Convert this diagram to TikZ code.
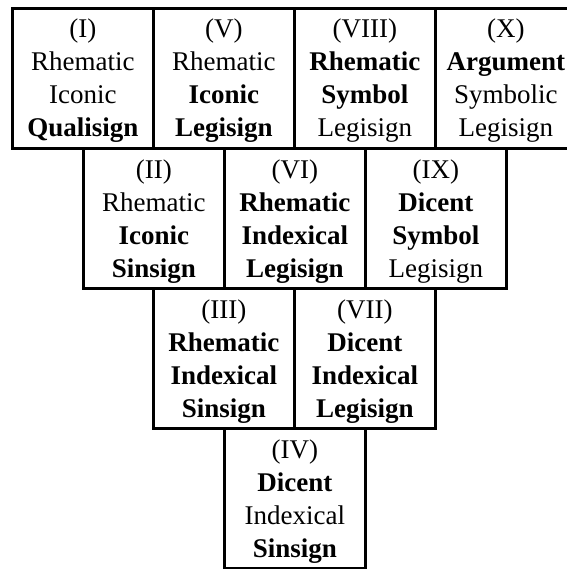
\documentclass[tikz,border=0pt]{standalone}
\usepackage{fontspec}
\setmainfont{Liberation Serif}
\begin{document}
\begin{tikzpicture}[x=1pt,y=-1pt,
  cellbox/.style={draw=black,line width=2.8pt,minimum width=141pt,minimum height=140pt,inner sep=0pt,anchor=north west},
  celltext/.style={align=center,inner sep=0pt,text=black,font=\fontsize{27}{33}\selectfont,yshift=-2.5pt}]
\useasboundingbox (0,0) rectangle (566,569);
\newcommand\rl[1]{\strut #1}
\newcommand\bl[1]{\strut\textbf{#1}}
% row 1
\node[cellbox] (b1) at (11,7) {};
\node[cellbox] (b5) at (152,7) {};
\node[cellbox] (b8) at (293,7) {};
\node[cellbox] (b10) at (434,7) {};
% row 2
\node[cellbox] (b2) at (82,147) {};
\node[cellbox] (b6) at (223,147) {};
\node[cellbox] (b9) at (364,147) {};
% row 3
\node[cellbox] (b3) at (152,287) {};
\node[cellbox] (b7) at (293,287) {};
% row 4
\node[cellbox] (b4) at (223,427) {};
% texts
\node[celltext] (t1) at (b1.center) {\rl{(I)}\\\rl{Rhematic}\\\rl{Iconic}\\\bl{Qualisign}};
\node[celltext] (t5) at (b5.center) {\rl{(V)}\\\rl{Rhematic}\\\bl{Iconic}\\\bl{Legisign}};
\node[celltext] (t8) at (b8.center) {\rl{(VIII)}\\\bl{Rhematic}\\\bl{Symbol}\\\rl{Legisign}};
\node[celltext] (t10) at (b10.center) {\rl{(X)}\\\bl{Argument}\\\rl{Symbolic}\\\rl{Legisign}};
\node[celltext] (t2) at (b2.center) {\rl{(II)}\\\rl{Rhematic}\\\bl{Iconic}\\\bl{Sinsign}};
\node[celltext] (t6) at (b6.center) {\rl{(VI)}\\\bl{Rhematic}\\\bl{Indexical}\\\bl{Legisign}};
\node[celltext] (t9) at (b9.center) {\rl{(IX)}\\\bl{Dicent}\\\bl{Symbol}\\\rl{Legisign}};
\node[celltext] (t3) at (b3.center) {\rl{(III)}\\\bl{Rhematic}\\\bl{Indexical}\\\bl{Sinsign}};
\node[celltext] (t7) at (b7.center) {\rl{(VII)}\\\bl{Dicent}\\\bl{Indexical}\\\bl{Legisign}};
\node[celltext] (t4) at (b4.center) {\rl{(IV)}\\\bl{Dicent}\\\rl{Indexical}\\\bl{Sinsign}};
\end{tikzpicture}
\end{document}
